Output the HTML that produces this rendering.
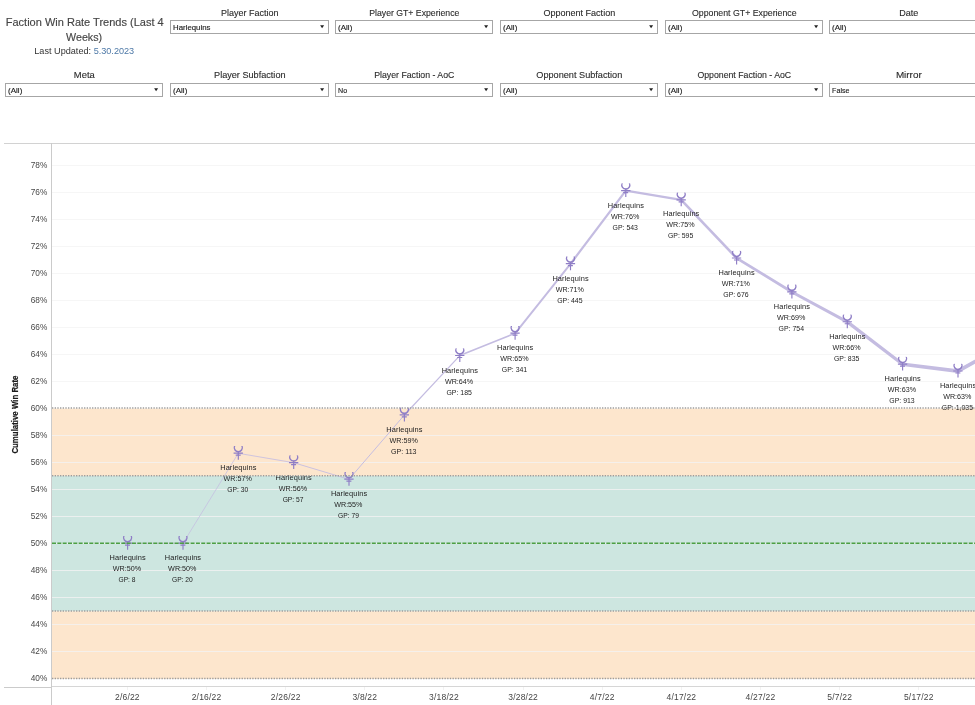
<!DOCTYPE html>
<html lang="en"><head><meta charset="utf-8"><title>Faction Win Rate Trends (Last 4 Weeks)</title>
<style>html,body{margin:0;padding:0;background:#fff}body{width:975px;height:705px;overflow:hidden}svg{display:block}svg text{font-family:"Liberation Sans", Arial, sans-serif;white-space:pre}</style></head><body>
<svg width="975" height="705" viewBox="0 0 975 705">
<text x="84.70" y="25.70" font-size="10.9" text-anchor="middle" textLength="157.90" lengthAdjust="spacingAndGlyphs" fill="#454545" stroke="#454545" stroke-width="0.15">Faction Win Rate Trends (Last 4</text>
<text x="84.10" y="40.70" font-size="10.9" text-anchor="middle" textLength="36.00" lengthAdjust="spacingAndGlyphs" fill="#454545" stroke="#454545" stroke-width="0.15">Weeks)</text>
<text x="34.3" y="53.6" font-size="9.3" textLength="99.9" lengthAdjust="spacingAndGlyphs" fill="#333">Last Updated: <tspan fill="#4e79a7">5.30.2023</tspan></text>
<text x="249.80" y="16.00" font-size="9.6" text-anchor="middle" textLength="57.50" lengthAdjust="spacingAndGlyphs" fill="#2b2b2b" stroke="#2b2b2b" stroke-width="0.12">Player Faction</text>
<rect x="170.5" y="20.5" width="158" height="13" fill="#fff" stroke="#a6a6a6" stroke-width="1"/>
<text x="173.10" y="30.00" font-size="7.05" textLength="37.30" lengthAdjust="spacingAndGlyphs" fill="#1a1a1a" stroke="#1a1a1a" stroke-width="0.12">Harlequins</text>
<path d="M320.1,25.3 H324.1 L322.1,28.3 Z" fill="#222"/>
<text x="414.30" y="16.00" font-size="9.6" text-anchor="middle" textLength="90.10" lengthAdjust="spacingAndGlyphs" fill="#2b2b2b" stroke="#2b2b2b" stroke-width="0.12">Player GT+ Experience</text>
<rect x="335.5" y="20.5" width="157" height="13" fill="#fff" stroke="#a6a6a6" stroke-width="1"/>
<text x="338.10" y="30.00" font-size="7.05" textLength="14.20" lengthAdjust="spacingAndGlyphs" fill="#1a1a1a" stroke="#1a1a1a" stroke-width="0.12">(All)</text>
<path d="M484.1,25.3 H488.1 L486.1,28.3 Z" fill="#222"/>
<text x="579.30" y="16.00" font-size="9.6" text-anchor="middle" textLength="71.80" lengthAdjust="spacingAndGlyphs" fill="#2b2b2b" stroke="#2b2b2b" stroke-width="0.12">Opponent Faction</text>
<rect x="500.5" y="20.5" width="157" height="13" fill="#fff" stroke="#a6a6a6" stroke-width="1"/>
<text x="503.10" y="30.00" font-size="7.05" textLength="14.20" lengthAdjust="spacingAndGlyphs" fill="#1a1a1a" stroke="#1a1a1a" stroke-width="0.12">(All)</text>
<path d="M649.1,25.3 H653.1 L651.1,28.3 Z" fill="#222"/>
<text x="744.30" y="16.00" font-size="9.6" text-anchor="middle" textLength="104.60" lengthAdjust="spacingAndGlyphs" fill="#2b2b2b" stroke="#2b2b2b" stroke-width="0.12">Opponent GT+ Experience</text>
<rect x="665.5" y="20.5" width="157" height="13" fill="#fff" stroke="#a6a6a6" stroke-width="1"/>
<text x="668.10" y="30.00" font-size="7.05" textLength="14.20" lengthAdjust="spacingAndGlyphs" fill="#1a1a1a" stroke="#1a1a1a" stroke-width="0.12">(All)</text>
<path d="M814.1,25.3 H818.1 L816.1,28.3 Z" fill="#222"/>
<text x="908.80" y="16.00" font-size="9.6" text-anchor="middle" textLength="19.10" lengthAdjust="spacingAndGlyphs" fill="#2b2b2b" stroke="#2b2b2b" stroke-width="0.12">Date</text>
<rect x="829.5" y="20.5" width="158" height="13" fill="#fff" stroke="#a6a6a6" stroke-width="1"/>
<text x="832.10" y="30.00" font-size="7.05" textLength="14.20" lengthAdjust="spacingAndGlyphs" fill="#1a1a1a" stroke="#1a1a1a" stroke-width="0.12">(All)</text>
<text x="84.30" y="78.00" font-size="9.6" text-anchor="middle" textLength="20.90" lengthAdjust="spacingAndGlyphs" fill="#2b2b2b" stroke="#2b2b2b" stroke-width="0.12">Meta</text>
<rect x="5.5" y="83.5" width="157" height="13" fill="#fff" stroke="#a6a6a6" stroke-width="1"/>
<text x="8.10" y="93.00" font-size="7.05" textLength="14.20" lengthAdjust="spacingAndGlyphs" fill="#1a1a1a" stroke="#1a1a1a" stroke-width="0.12">(All)</text>
<path d="M154.1,88.3 H158.1 L156.1,91.3 Z" fill="#222"/>
<text x="249.80" y="78.00" font-size="9.6" text-anchor="middle" textLength="71.50" lengthAdjust="spacingAndGlyphs" fill="#2b2b2b" stroke="#2b2b2b" stroke-width="0.12">Player Subfaction</text>
<rect x="170.5" y="83.5" width="158" height="13" fill="#fff" stroke="#a6a6a6" stroke-width="1"/>
<text x="173.10" y="93.00" font-size="7.05" textLength="14.20" lengthAdjust="spacingAndGlyphs" fill="#1a1a1a" stroke="#1a1a1a" stroke-width="0.12">(All)</text>
<path d="M320.1,88.3 H324.1 L322.1,91.3 Z" fill="#222"/>
<text x="414.30" y="78.00" font-size="9.6" text-anchor="middle" textLength="80.20" lengthAdjust="spacingAndGlyphs" fill="#2b2b2b" stroke="#2b2b2b" stroke-width="0.12">Player Faction - AoC</text>
<rect x="335.5" y="83.5" width="157" height="13" fill="#fff" stroke="#a6a6a6" stroke-width="1"/>
<text x="338.10" y="93.00" font-size="7.05" textLength="9.10" lengthAdjust="spacingAndGlyphs" fill="#1a1a1a" stroke="#1a1a1a" stroke-width="0.12">No</text>
<path d="M484.1,88.3 H488.1 L486.1,91.3 Z" fill="#222"/>
<text x="579.30" y="78.00" font-size="9.6" text-anchor="middle" textLength="86.00" lengthAdjust="spacingAndGlyphs" fill="#2b2b2b" stroke="#2b2b2b" stroke-width="0.12">Opponent Subfaction</text>
<rect x="500.5" y="83.5" width="157" height="13" fill="#fff" stroke="#a6a6a6" stroke-width="1"/>
<text x="503.10" y="93.00" font-size="7.05" textLength="14.20" lengthAdjust="spacingAndGlyphs" fill="#1a1a1a" stroke="#1a1a1a" stroke-width="0.12">(All)</text>
<path d="M649.1,88.3 H653.1 L651.1,91.3 Z" fill="#222"/>
<text x="744.30" y="78.00" font-size="9.6" text-anchor="middle" textLength="93.80" lengthAdjust="spacingAndGlyphs" fill="#2b2b2b" stroke="#2b2b2b" stroke-width="0.12">Opponent Faction - AoC</text>
<rect x="665.5" y="83.5" width="157" height="13" fill="#fff" stroke="#a6a6a6" stroke-width="1"/>
<text x="668.10" y="93.00" font-size="7.05" textLength="14.20" lengthAdjust="spacingAndGlyphs" fill="#1a1a1a" stroke="#1a1a1a" stroke-width="0.12">(All)</text>
<path d="M814.1,88.3 H818.1 L816.1,91.3 Z" fill="#222"/>
<text x="908.80" y="78.00" font-size="9.6" text-anchor="middle" textLength="25.80" lengthAdjust="spacingAndGlyphs" fill="#2b2b2b" stroke="#2b2b2b" stroke-width="0.12">Mirror</text>
<rect x="829.5" y="83.5" width="158" height="13" fill="#fff" stroke="#a6a6a6" stroke-width="1"/>
<text x="832.10" y="93.00" font-size="7.05" textLength="17.40" lengthAdjust="spacingAndGlyphs" fill="#1a1a1a" stroke="#1a1a1a" stroke-width="0.12">False</text>
<rect x="52" y="408.60" width="923" height="67.35" fill="#fde6cd"/>
<rect x="52" y="475.95" width="923" height="135.30" fill="#cde6e0"/>
<rect x="52" y="611.25" width="923" height="67.65" fill="#fde6cd"/>
<text x="47.30" y="680.90" font-size="8.3" text-anchor="end" textLength="16.60" lengthAdjust="spacingAndGlyphs" fill="#484848">40%</text>
<line x1="52" x2="975" y1="651.5" y2="651.5" stroke="#f2f2f2" stroke-opacity="0.8"/>
<text x="47.30" y="653.90" font-size="8.3" text-anchor="end" textLength="16.60" lengthAdjust="spacingAndGlyphs" fill="#484848">42%</text>
<line x1="52" x2="975" y1="624.5" y2="624.5" stroke="#f2f2f2" stroke-opacity="0.8"/>
<text x="47.30" y="626.90" font-size="8.3" text-anchor="end" textLength="16.60" lengthAdjust="spacingAndGlyphs" fill="#484848">44%</text>
<line x1="52" x2="975" y1="597.5" y2="597.5" stroke="#f2f2f2" stroke-opacity="0.8"/>
<text x="47.30" y="599.90" font-size="8.3" text-anchor="end" textLength="16.60" lengthAdjust="spacingAndGlyphs" fill="#484848">46%</text>
<line x1="52" x2="975" y1="570.5" y2="570.5" stroke="#f2f2f2" stroke-opacity="0.8"/>
<text x="47.30" y="572.90" font-size="8.3" text-anchor="end" textLength="16.60" lengthAdjust="spacingAndGlyphs" fill="#484848">48%</text>
<line x1="52" x2="975" y1="543.5" y2="543.5" stroke="#f2f2f2" stroke-opacity="0.8"/>
<text x="47.30" y="545.90" font-size="8.3" text-anchor="end" textLength="16.60" lengthAdjust="spacingAndGlyphs" fill="#484848">50%</text>
<line x1="52" x2="975" y1="516.5" y2="516.5" stroke="#f2f2f2" stroke-opacity="0.8"/>
<text x="47.30" y="518.90" font-size="8.3" text-anchor="end" textLength="16.60" lengthAdjust="spacingAndGlyphs" fill="#484848">52%</text>
<line x1="52" x2="975" y1="489.5" y2="489.5" stroke="#f2f2f2" stroke-opacity="0.8"/>
<text x="47.30" y="491.90" font-size="8.3" text-anchor="end" textLength="16.60" lengthAdjust="spacingAndGlyphs" fill="#484848">54%</text>
<line x1="52" x2="975" y1="462.5" y2="462.5" stroke="#f2f2f2" stroke-opacity="0.8"/>
<text x="47.30" y="464.90" font-size="8.3" text-anchor="end" textLength="16.60" lengthAdjust="spacingAndGlyphs" fill="#484848">56%</text>
<line x1="52" x2="975" y1="435.5" y2="435.5" stroke="#f2f2f2" stroke-opacity="0.8"/>
<text x="47.30" y="437.90" font-size="8.3" text-anchor="end" textLength="16.60" lengthAdjust="spacingAndGlyphs" fill="#484848">58%</text>
<text x="47.30" y="410.90" font-size="8.3" text-anchor="end" textLength="16.60" lengthAdjust="spacingAndGlyphs" fill="#484848">60%</text>
<line x1="52" x2="975" y1="381.5" y2="381.5" stroke="#f6f6f6"/>
<text x="47.30" y="383.90" font-size="8.3" text-anchor="end" textLength="16.60" lengthAdjust="spacingAndGlyphs" fill="#484848">62%</text>
<line x1="52" x2="975" y1="354.5" y2="354.5" stroke="#f6f6f6"/>
<text x="47.30" y="356.90" font-size="8.3" text-anchor="end" textLength="16.60" lengthAdjust="spacingAndGlyphs" fill="#484848">64%</text>
<line x1="52" x2="975" y1="327.5" y2="327.5" stroke="#f6f6f6"/>
<text x="47.30" y="329.90" font-size="8.3" text-anchor="end" textLength="16.60" lengthAdjust="spacingAndGlyphs" fill="#484848">66%</text>
<line x1="52" x2="975" y1="300.5" y2="300.5" stroke="#f6f6f6"/>
<text x="47.30" y="302.90" font-size="8.3" text-anchor="end" textLength="16.60" lengthAdjust="spacingAndGlyphs" fill="#484848">68%</text>
<line x1="52" x2="975" y1="273.5" y2="273.5" stroke="#f6f6f6"/>
<text x="47.30" y="275.90" font-size="8.3" text-anchor="end" textLength="16.60" lengthAdjust="spacingAndGlyphs" fill="#484848">70%</text>
<line x1="52" x2="975" y1="246.5" y2="246.5" stroke="#f6f6f6"/>
<text x="47.30" y="248.90" font-size="8.3" text-anchor="end" textLength="16.60" lengthAdjust="spacingAndGlyphs" fill="#484848">72%</text>
<line x1="52" x2="975" y1="219.5" y2="219.5" stroke="#f6f6f6"/>
<text x="47.30" y="221.90" font-size="8.3" text-anchor="end" textLength="16.60" lengthAdjust="spacingAndGlyphs" fill="#484848">74%</text>
<line x1="52" x2="975" y1="192.5" y2="192.5" stroke="#f6f6f6"/>
<text x="47.30" y="194.90" font-size="8.3" text-anchor="end" textLength="16.60" lengthAdjust="spacingAndGlyphs" fill="#484848">76%</text>
<line x1="52" x2="975" y1="165.5" y2="165.5" stroke="#f6f6f6"/>
<text x="47.30" y="167.90" font-size="8.3" text-anchor="end" textLength="16.60" lengthAdjust="spacingAndGlyphs" fill="#484848">78%</text>
<line x1="4" x2="975" y1="143.5" y2="143.5" stroke="#d2d2d2"/>
<line x1="51.5" x2="51.5" y1="143" y2="705" stroke="#cbcbcb"/>
<line x1="4" x2="52" y1="687.5" y2="687.5" stroke="#cbcbcb"/>
<line x1="52" x2="975" y1="686.5" y2="686.5" stroke="#d6d6d6"/>
<text transform="translate(18.2,414.6) rotate(-90)" font-size="8.2" font-weight="700" text-anchor="middle" textLength="78" lengthAdjust="spacingAndGlyphs" fill="#1a1a1a" stroke="#1a1a1a" stroke-width="0.2">Cumulative Win Rate</text>
<text x="127.30" y="700.10" font-size="8.5" text-anchor="middle" textLength="24.60" lengthAdjust="spacing" fill="#444">2/6/22</text>
<line x1="127.5" x2="127.5" y1="687" y2="690" stroke="#f2f2f2"/>
<text x="206.44" y="700.10" font-size="8.5" text-anchor="middle" textLength="29.60" lengthAdjust="spacing" fill="#444">2/16/22</text>
<line x1="206.5" x2="206.5" y1="687" y2="690" stroke="#f2f2f2"/>
<text x="285.58" y="700.10" font-size="8.5" text-anchor="middle" textLength="29.60" lengthAdjust="spacing" fill="#444">2/26/22</text>
<line x1="285.5" x2="285.5" y1="687" y2="690" stroke="#f2f2f2"/>
<text x="364.72" y="700.10" font-size="8.5" text-anchor="middle" textLength="24.60" lengthAdjust="spacing" fill="#444">3/8/22</text>
<line x1="364.5" x2="364.5" y1="687" y2="690" stroke="#f2f2f2"/>
<text x="443.86" y="700.10" font-size="8.5" text-anchor="middle" textLength="29.60" lengthAdjust="spacing" fill="#444">3/18/22</text>
<line x1="443.5" x2="443.5" y1="687" y2="690" stroke="#f2f2f2"/>
<text x="523.00" y="700.10" font-size="8.5" text-anchor="middle" textLength="29.60" lengthAdjust="spacing" fill="#444">3/28/22</text>
<line x1="523.5" x2="523.5" y1="687" y2="690" stroke="#f2f2f2"/>
<text x="602.14" y="700.10" font-size="8.5" text-anchor="middle" textLength="24.60" lengthAdjust="spacing" fill="#444">4/7/22</text>
<line x1="602.5" x2="602.5" y1="687" y2="690" stroke="#f2f2f2"/>
<text x="681.28" y="700.10" font-size="8.5" text-anchor="middle" textLength="29.60" lengthAdjust="spacing" fill="#444">4/17/22</text>
<line x1="681.5" x2="681.5" y1="687" y2="690" stroke="#f2f2f2"/>
<text x="760.42" y="700.10" font-size="8.5" text-anchor="middle" textLength="29.60" lengthAdjust="spacing" fill="#444">4/27/22</text>
<line x1="760.5" x2="760.5" y1="687" y2="690" stroke="#f2f2f2"/>
<text x="839.56" y="700.10" font-size="8.5" text-anchor="middle" textLength="24.60" lengthAdjust="spacing" fill="#444">5/7/22</text>
<line x1="839.5" x2="839.5" y1="687" y2="690" stroke="#f2f2f2"/>
<text x="918.70" y="700.10" font-size="8.5" text-anchor="middle" textLength="29.60" lengthAdjust="spacing" fill="#444">5/17/22</text>
<line x1="918.5" x2="918.5" y1="687" y2="690" stroke="#f2f2f2"/>
<line x1="127.6" y1="543.3" x2="183.0" y2="543.3" stroke="#c4bce1" stroke-width="0.71" stroke-linecap="round"/>
<line x1="183.0" y1="543.3" x2="238.3" y2="453.3" stroke="#c4bce1" stroke-width="0.74" stroke-linecap="round"/>
<line x1="238.3" y1="453.3" x2="293.7" y2="462.7" stroke="#c4bce1" stroke-width="0.82" stroke-linecap="round"/>
<line x1="293.7" y1="462.7" x2="349.0" y2="479.3" stroke="#c4bce1" stroke-width="0.88" stroke-linecap="round"/>
<line x1="349.0" y1="479.3" x2="404.4" y2="415.0" stroke="#c4bce1" stroke-width="0.98" stroke-linecap="round"/>
<line x1="404.4" y1="415.0" x2="459.8" y2="355.6" stroke="#c4bce1" stroke-width="1.19" stroke-linecap="round"/>
<line x1="459.8" y1="355.6" x2="515.1" y2="333.3" stroke="#c4bce1" stroke-width="1.64" stroke-linecap="round"/>
<line x1="515.1" y1="333.3" x2="570.5" y2="263.8" stroke="#c4bce1" stroke-width="1.94" stroke-linecap="round"/>
<line x1="570.5" y1="263.8" x2="625.8" y2="190.7" stroke="#c4bce1" stroke-width="2.22" stroke-linecap="round"/>
<line x1="625.8" y1="190.7" x2="681.2" y2="199.9" stroke="#c4bce1" stroke-width="2.37" stroke-linecap="round"/>
<line x1="681.2" y1="199.9" x2="736.6" y2="258.1" stroke="#c4bce1" stroke-width="2.61" stroke-linecap="round"/>
<line x1="736.6" y1="258.1" x2="791.9" y2="292.0" stroke="#c4bce1" stroke-width="2.84" stroke-linecap="round"/>
<line x1="791.9" y1="292.0" x2="847.3" y2="321.9" stroke="#c4bce1" stroke-width="3.07" stroke-linecap="round"/>
<line x1="847.3" y1="321.9" x2="902.6" y2="364.2" stroke="#c4bce1" stroke-width="3.30" stroke-linecap="round"/>
<line x1="902.6" y1="364.2" x2="958.0" y2="371.1" stroke="#c4bce1" stroke-width="3.65" stroke-linecap="round"/>
<line x1="958.0" y1="371.1" x2="1013.4" y2="340.4" stroke="#c4bce1" stroke-width="3.84" stroke-linecap="round"/>
<defs><g id="ic"><path d="M-4.40,-7.2 A4.7,4.7 0 1 0 4.40,-7.2 L3.0,-7.4 A3.4,3.4 0 1 1 -3.0,-7.4 Z" fill="#8f7ec6"/><path d="M0,-2 V6.4 M-4.7,-0.1 H4.6 M-2.6,1.9 H2.4" fill="none" stroke="#8f7ec6" stroke-width="1.15"/></g></defs>
<use href="#ic" x="127.6" y="543.3"/>
<use href="#ic" x="183.0" y="543.3"/>
<use href="#ic" x="238.3" y="453.3"/>
<use href="#ic" x="293.7" y="462.7"/>
<use href="#ic" x="349.0" y="479.3"/>
<use href="#ic" x="404.4" y="415.0"/>
<use href="#ic" x="459.8" y="355.6"/>
<use href="#ic" x="515.1" y="333.3"/>
<use href="#ic" x="570.5" y="263.8"/>
<use href="#ic" x="625.8" y="190.7"/>
<use href="#ic" x="681.2" y="199.9"/>
<use href="#ic" x="736.6" y="258.1"/>
<use href="#ic" x="791.9" y="292.0"/>
<use href="#ic" x="847.3" y="321.9"/>
<use href="#ic" x="902.6" y="364.2"/>
<use href="#ic" x="958.0" y="371.1"/>
<use href="#ic" x="1013.4" y="340.4"/>
<text x="127.60" y="559.50" font-size="7.4" text-anchor="middle" textLength="36.20" lengthAdjust="spacing" fill="#1c1c1c">Harlequins</text>
<text x="126.90" y="570.70" font-size="7.4" text-anchor="middle" textLength="28.30" lengthAdjust="spacingAndGlyphs" fill="#1c1c1c">WR:50%</text>
<text x="127.00" y="581.90" font-size="7.4" text-anchor="middle" textLength="17.00" lengthAdjust="spacingAndGlyphs" fill="#1c1c1c">GP: 8</text>
<text x="182.96" y="559.50" font-size="7.4" text-anchor="middle" textLength="36.20" lengthAdjust="spacing" fill="#1c1c1c">Harlequins</text>
<text x="182.26" y="570.70" font-size="7.4" text-anchor="middle" textLength="28.30" lengthAdjust="spacingAndGlyphs" fill="#1c1c1c">WR:50%</text>
<text x="182.36" y="581.90" font-size="7.4" text-anchor="middle" textLength="20.90" lengthAdjust="spacingAndGlyphs" fill="#1c1c1c">GP: 20</text>
<text x="238.32" y="469.50" font-size="7.4" text-anchor="middle" textLength="36.20" lengthAdjust="spacing" fill="#1c1c1c">Harlequins</text>
<text x="237.62" y="480.70" font-size="7.4" text-anchor="middle" textLength="28.30" lengthAdjust="spacingAndGlyphs" fill="#1c1c1c">WR:57%</text>
<text x="237.72" y="491.90" font-size="7.4" text-anchor="middle" textLength="20.90" lengthAdjust="spacingAndGlyphs" fill="#1c1c1c">GP: 30</text>
<text x="293.68" y="479.50" font-size="7.4" text-anchor="middle" textLength="36.20" lengthAdjust="spacing" fill="#1c1c1c">Harlequins</text>
<text x="292.98" y="490.70" font-size="7.4" text-anchor="middle" textLength="28.30" lengthAdjust="spacingAndGlyphs" fill="#1c1c1c">WR:56%</text>
<text x="293.08" y="501.90" font-size="7.4" text-anchor="middle" textLength="20.90" lengthAdjust="spacingAndGlyphs" fill="#1c1c1c">GP: 57</text>
<text x="349.04" y="495.50" font-size="7.4" text-anchor="middle" textLength="36.20" lengthAdjust="spacing" fill="#1c1c1c">Harlequins</text>
<text x="348.34" y="506.70" font-size="7.4" text-anchor="middle" textLength="28.30" lengthAdjust="spacingAndGlyphs" fill="#1c1c1c">WR:55%</text>
<text x="348.44" y="517.90" font-size="7.4" text-anchor="middle" textLength="20.90" lengthAdjust="spacingAndGlyphs" fill="#1c1c1c">GP: 79</text>
<text x="404.40" y="431.50" font-size="7.4" text-anchor="middle" textLength="36.20" lengthAdjust="spacing" fill="#1c1c1c">Harlequins</text>
<text x="403.70" y="442.70" font-size="7.4" text-anchor="middle" textLength="28.30" lengthAdjust="spacingAndGlyphs" fill="#1c1c1c">WR:59%</text>
<text x="403.80" y="453.90" font-size="7.4" text-anchor="middle" textLength="25.40" lengthAdjust="spacingAndGlyphs" fill="#1c1c1c">GP: 113</text>
<text x="459.76" y="372.50" font-size="7.4" text-anchor="middle" textLength="36.20" lengthAdjust="spacing" fill="#1c1c1c">Harlequins</text>
<text x="459.06" y="383.70" font-size="7.4" text-anchor="middle" textLength="28.30" lengthAdjust="spacingAndGlyphs" fill="#1c1c1c">WR:64%</text>
<text x="459.16" y="394.90" font-size="7.4" text-anchor="middle" textLength="25.40" lengthAdjust="spacingAndGlyphs" fill="#1c1c1c">GP: 185</text>
<text x="515.12" y="349.50" font-size="7.4" text-anchor="middle" textLength="36.20" lengthAdjust="spacing" fill="#1c1c1c">Harlequins</text>
<text x="514.42" y="360.70" font-size="7.4" text-anchor="middle" textLength="28.30" lengthAdjust="spacingAndGlyphs" fill="#1c1c1c">WR:65%</text>
<text x="514.52" y="371.90" font-size="7.4" text-anchor="middle" textLength="25.40" lengthAdjust="spacingAndGlyphs" fill="#1c1c1c">GP: 341</text>
<text x="570.48" y="280.50" font-size="7.4" text-anchor="middle" textLength="36.20" lengthAdjust="spacing" fill="#1c1c1c">Harlequins</text>
<text x="569.78" y="291.70" font-size="7.4" text-anchor="middle" textLength="28.30" lengthAdjust="spacingAndGlyphs" fill="#1c1c1c">WR:71%</text>
<text x="569.88" y="302.90" font-size="7.4" text-anchor="middle" textLength="25.40" lengthAdjust="spacingAndGlyphs" fill="#1c1c1c">GP: 445</text>
<text x="625.84" y="207.50" font-size="7.4" text-anchor="middle" textLength="36.20" lengthAdjust="spacing" fill="#1c1c1c">Harlequins</text>
<text x="625.14" y="218.70" font-size="7.4" text-anchor="middle" textLength="28.30" lengthAdjust="spacingAndGlyphs" fill="#1c1c1c">WR:76%</text>
<text x="625.24" y="229.90" font-size="7.4" text-anchor="middle" textLength="25.40" lengthAdjust="spacingAndGlyphs" fill="#1c1c1c">GP: 543</text>
<text x="681.20" y="215.50" font-size="7.4" text-anchor="middle" textLength="36.20" lengthAdjust="spacing" fill="#1c1c1c">Harlequins</text>
<text x="680.50" y="226.70" font-size="7.4" text-anchor="middle" textLength="28.30" lengthAdjust="spacingAndGlyphs" fill="#1c1c1c">WR:75%</text>
<text x="680.60" y="237.90" font-size="7.4" text-anchor="middle" textLength="25.40" lengthAdjust="spacingAndGlyphs" fill="#1c1c1c">GP: 595</text>
<text x="736.56" y="274.50" font-size="7.4" text-anchor="middle" textLength="36.20" lengthAdjust="spacing" fill="#1c1c1c">Harlequins</text>
<text x="735.86" y="285.70" font-size="7.4" text-anchor="middle" textLength="28.30" lengthAdjust="spacingAndGlyphs" fill="#1c1c1c">WR:71%</text>
<text x="735.96" y="296.90" font-size="7.4" text-anchor="middle" textLength="25.40" lengthAdjust="spacingAndGlyphs" fill="#1c1c1c">GP: 676</text>
<text x="791.92" y="308.50" font-size="7.4" text-anchor="middle" textLength="36.20" lengthAdjust="spacing" fill="#1c1c1c">Harlequins</text>
<text x="791.22" y="319.70" font-size="7.4" text-anchor="middle" textLength="28.30" lengthAdjust="spacingAndGlyphs" fill="#1c1c1c">WR:69%</text>
<text x="791.32" y="330.90" font-size="7.4" text-anchor="middle" textLength="25.40" lengthAdjust="spacingAndGlyphs" fill="#1c1c1c">GP: 754</text>
<text x="847.28" y="338.50" font-size="7.4" text-anchor="middle" textLength="36.20" lengthAdjust="spacing" fill="#1c1c1c">Harlequins</text>
<text x="846.58" y="349.70" font-size="7.4" text-anchor="middle" textLength="28.30" lengthAdjust="spacingAndGlyphs" fill="#1c1c1c">WR:66%</text>
<text x="846.68" y="360.90" font-size="7.4" text-anchor="middle" textLength="25.40" lengthAdjust="spacingAndGlyphs" fill="#1c1c1c">GP: 835</text>
<text x="902.64" y="380.50" font-size="7.4" text-anchor="middle" textLength="36.20" lengthAdjust="spacing" fill="#1c1c1c">Harlequins</text>
<text x="901.94" y="391.70" font-size="7.4" text-anchor="middle" textLength="28.30" lengthAdjust="spacingAndGlyphs" fill="#1c1c1c">WR:63%</text>
<text x="902.04" y="402.90" font-size="7.4" text-anchor="middle" textLength="25.40" lengthAdjust="spacingAndGlyphs" fill="#1c1c1c">GP: 913</text>
<text x="958.00" y="387.50" font-size="7.4" text-anchor="middle" textLength="36.20" lengthAdjust="spacing" fill="#1c1c1c">Harlequins</text>
<text x="957.30" y="398.70" font-size="7.4" text-anchor="middle" textLength="28.30" lengthAdjust="spacingAndGlyphs" fill="#1c1c1c">WR:63%</text>
<text x="957.40" y="409.90" font-size="7.4" text-anchor="middle" textLength="31.30" lengthAdjust="spacingAndGlyphs" fill="#1c1c1c">GP: 1,035</text>
<text x="1013.36" y="356.50" font-size="7.4" text-anchor="middle" textLength="36.20" lengthAdjust="spacing" fill="#1c1c1c">Harlequins</text>
<text x="1012.66" y="367.70" font-size="7.4" text-anchor="middle" textLength="28.30" lengthAdjust="spacingAndGlyphs" fill="#1c1c1c">WR:65%</text>
<text x="1012.76" y="378.90" font-size="7.4" text-anchor="middle" textLength="31.30" lengthAdjust="spacingAndGlyphs" fill="#1c1c1c">GP: 1,100</text>
<line x1="52" x2="975" y1="408.00" y2="408.00" stroke="#9c9c9c" stroke-width="1.5" stroke-dasharray="1.33 1.34"/>
<line x1="52" x2="975" y1="475.65" y2="475.65" stroke="#9c9c9c" stroke-width="1.5" stroke-dasharray="1.33 1.34"/>
<line x1="52" x2="975" y1="610.95" y2="610.95" stroke="#9c9c9c" stroke-width="1.5" stroke-dasharray="1.33 1.34"/>
<line x1="52" x2="975" y1="678.60" y2="678.60" stroke="#9c9c9c" stroke-width="1.5" stroke-dasharray="1.33 1.34"/>
<line x1="52" x2="975" y1="543.20" y2="543.20" stroke="#4d9f44" stroke-width="1.6" stroke-dasharray="4 1.33"/>
</svg></body></html>
